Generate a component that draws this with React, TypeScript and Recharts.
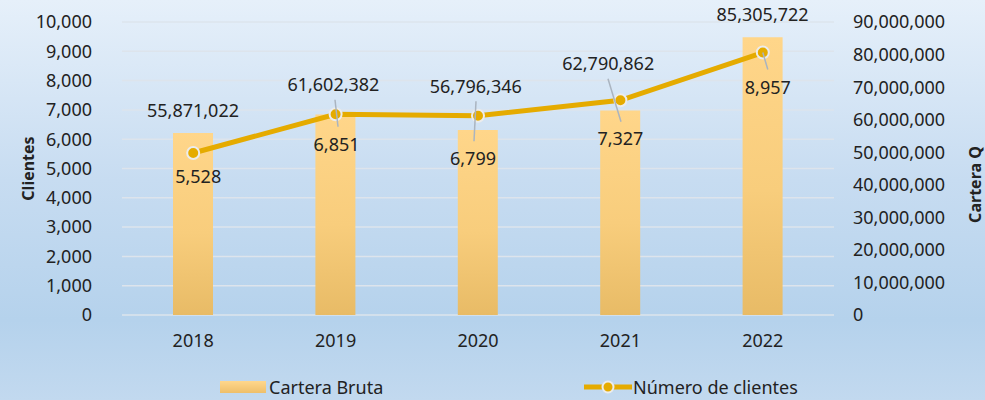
import React from "react";
import {
  ComposedChart,
  Bar,
  Line,
  XAxis,
  YAxis,
  CartesianGrid,
  LabelList,
  Legend,
} from "recharts";

document.body.style.margin = "0";

const years = ["2018", "2019", "2020", "2021", "2022"];
const carteraBruta = [55871022, 61602382, 56796346, 62790862, 85305722];
const clientes = [5528, 6851, 6799, 7327, 8957];
const leftTicks = [0, 1000, 2000, 3000, 4000, 5000, 6000, 7000, 8000, 9000, 10000];
const rightTicks = [0, 10e6, 20e6, 30e6, 40e6, 50e6, 60e6, 70e6, 80e6, 90e6];

// hand-placed label offsets (px), like the dragged labels in the original
const barLabelOffset = [
  [0, -16],
  [-2, -23],
  [-2, -37],
  [-12, -41],
  [0, -16],
];
const lineLabelOffset = [
  [5, 30],
  [1, 37],
  [-5, 49],
  [0, 45],
  [5, 41],
];
const leaders: (number[] | null)[] = [
  null,
  [-0.6, -14.5, 2.4, 12.5],
  [-2, -14.6, -4, 25.4],
  [-12.4, -21.6, 0.6, 21.4],
  [0, 0, 5, 17],
];

const data = years.map((y, i) => ({
  year: y,
  cartera: carteraBruta[i],
  clientes: clientes[i],
}));

const FONT = "'Noto Sans', 'Open Sans', sans-serif";
const TEXT = "#222222";
const GOLD = "#e5ab00";
const fmt = (v: number) => v.toLocaleString("en-US");

const BarLabel = (props: any) => {
  const { x, y, width, index, value } = props;
  const [dx, dy] = barLabelOffset[index];
  return (
    <text
      x={x + width / 2 + dx}
      y={y + dy}
      textAnchor="middle"
      fill={TEXT}
      fontSize={18}
      fontFamily={FONT}
    >
      {fmt(value)}
    </text>
  );
};

const LineLabel = (props: any) => {
  const { x, y, index, value } = props;
  const [dx, dy] = lineLabelOffset[index];
  const l = leaders[index];
  return (
    <g>
      {l && (
        <line
          x1={x + l[0]}
          y1={y + l[1]}
          x2={x + l[2]}
          y2={y + l[3]}
          stroke="#aab4c0"
          strokeWidth={1.5}
        />
      )}
      <text
        x={x + dx}
        y={y + dy}
        textAnchor="middle"
        fill={TEXT}
        fontSize={18}
        fontFamily={FONT}
      >
        {fmt(value)}
      </text>
    </g>
  );
};

const Dot = (props: any) => {
  const { cx, cy } = props;
  return <circle cx={cx} cy={cy} r={6} fill={GOLD} stroke="#ececec" strokeWidth={2} />;
};

const LegendBox = () => (
  <div style={{ position: "relative", width: 985, height: 28, fontFamily: FONT, fontSize: 18, color: TEXT }}>
    <div
      style={{
        position: "absolute",
        left: 220,
        top: 9,
        width: 46,
        height: 12,
        background: "linear-gradient(#ffd78c, #eebf6a)",
      }}
    />
    <span style={{ position: "absolute", left: 269, top: 1, lineHeight: "28px" }}>Cartera Bruta</span>
    <svg style={{ position: "absolute", left: 582, top: 5 }} width={52} height={20}>
      <line x1={2} y1={10} x2={50} y2={10} stroke={GOLD} strokeWidth={5} />
      <circle cx={26} cy={10} r={5.5} fill={GOLD} stroke="#ececec" strokeWidth={2} />
    </svg>
    <span style={{ position: "absolute", left: 633, top: 1, lineHeight: "28px" }}>Número de clientes</span>
  </div>
);

export default function App() {
  return (
    <div
      style={{
        width: 985,
        height: 400,
        background: "linear-gradient(180deg, #e6f0fa 0%, #c7dcf1 45%, #b5d2ec 80%, #c2d9ef 100%)",
      }}
    >
      <ComposedChart
        width={985}
        height={400}
        data={data}
        margin={{ top: 22, right: 0, bottom: 0, left: 0 }}
        barCategoryGap={0}
      >
        <defs>
          <linearGradient id="barFill" x1="0" y1="0" x2="0" y2="1">
            <stop offset="0%" stopColor="#ffd68a" />
            <stop offset="55%" stopColor="#f8cd7c" />
            <stop offset="100%" stopColor="#e8bb66" />
          </linearGradient>
        </defs>
        <CartesianGrid
          yAxisId="left"
          vertical={false}
          stroke="#dde4ec"
          strokeWidth={1.5}
        />
        <XAxis
          dataKey="year"
          axisLine={false}
          tickLine={false}
          tickSize={0}
          tickMargin={19}
          height={57}
          tick={{ fill: TEXT, fontSize: 18, fontFamily: FONT }}
        />
        <YAxis
          yAxisId="left"
          domain={[0, 10000]}
          ticks={leftTicks}
          interval={0}
          width={122}
          axisLine={false}
          tickLine={false}
          tickSize={0}
          tickMargin={30}
          tickFormatter={fmt}
          tick={{ fill: TEXT, fontSize: 18, fontFamily: FONT }}
          label={{
            content: (p: any) => {
              const vb = p.viewBox;
              const cx = vb.x + 28;
              const cy = vb.y + vb.height / 2;
              return (
                <text
                  x={cx}
                  y={cy}
                  transform={`rotate(-90 ${cx} ${cy})`}
                  textAnchor="middle"
                  dominantBaseline="central"
                  fill={TEXT}
                  fontSize={16}
                  fontWeight="bold"
                  fontFamily={FONT}
                >
                  Clientes
                </text>
              );
            },
          }}
        />
        <YAxis
          yAxisId="right"
          orientation="right"
          domain={[0, 90000000]}
          ticks={rightTicks}
          interval={0}
          width={151}
          axisLine={false}
          tickLine={false}
          tickSize={0}
          tickMargin={19}
          tickFormatter={fmt}
          tick={{ fill: TEXT, fontSize: 18, fontFamily: FONT, textAnchor: "start" }}
          label={{
            content: (p: any) => {
              const vb = p.viewBox;
              const cx = vb.x + 141;
              const cy = vb.y + vb.height / 2 + 16;
              return (
                <text
                  x={cx}
                  y={cy}
                  transform={`rotate(-90 ${cx} ${cy})`}
                  textAnchor="middle"
                  dominantBaseline="central"
                  fill={TEXT}
                  fontSize={16}
                  fontWeight="bold"
                  fontFamily={FONT}
                >
                  Cartera Q
                </text>
              );
            },
          }}
        />
        <Legend
          verticalAlign="bottom"
          content={() => <LegendBox />}
          wrapperStyle={{ left: 0, bottom: 0, width: 985 }}
        />
        <Bar
          yAxisId="right"
          dataKey="cartera"
          name="Cartera Bruta"
          barSize={40}
          fill="url(#barFill)"
          isAnimationActive={false}
        >
          <LabelList dataKey="cartera" content={BarLabel} />
        </Bar>
        <Line
          yAxisId="left"
          dataKey="clientes"
          name="Número de clientes"
          type="linear"
          stroke={GOLD}
          strokeWidth={5}
          dot={<Dot />}
          activeDot={false}
          isAnimationActive={false}
        >
          <LabelList dataKey="clientes" content={LineLabel} />
        </Line>
      </ComposedChart>
    </div>
  );
}
